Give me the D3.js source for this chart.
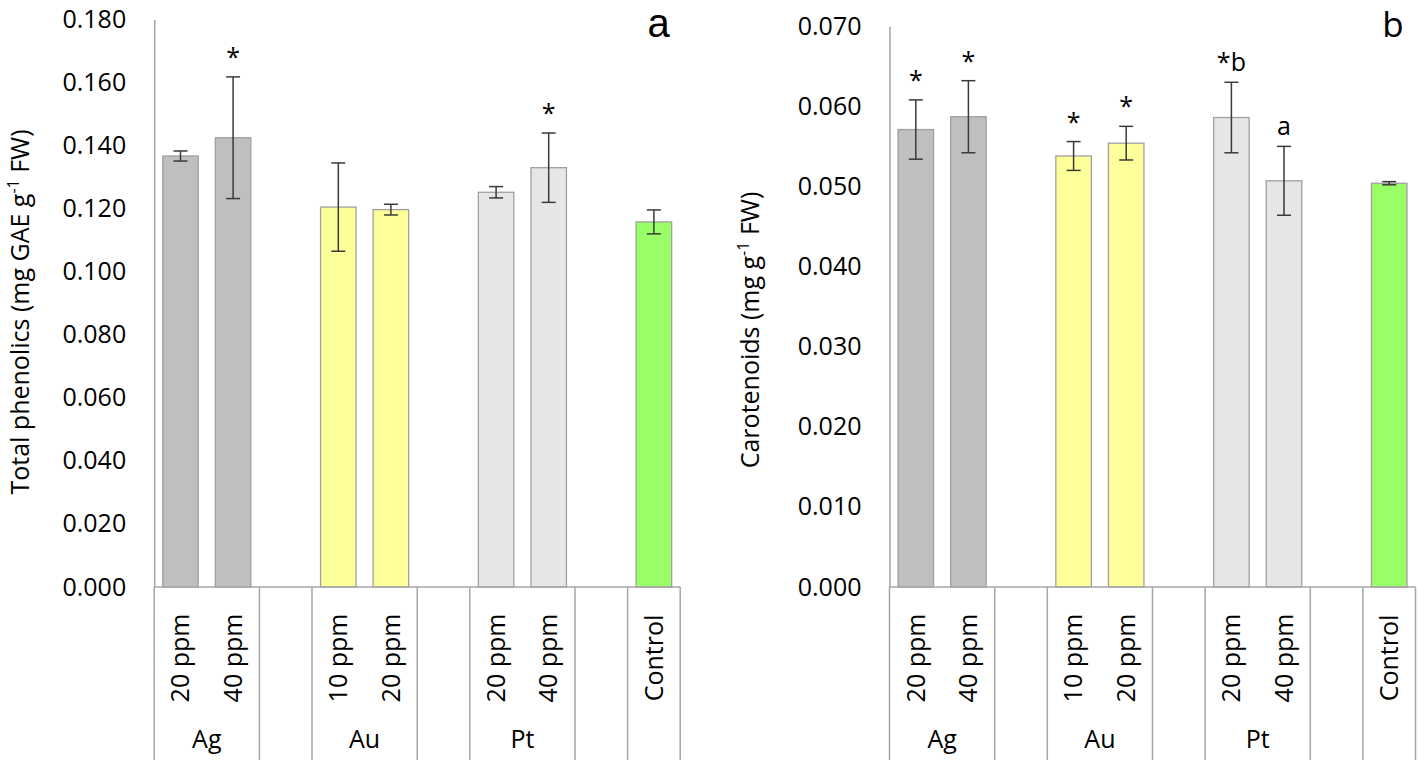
<!DOCTYPE html>
<html>
<head>
<meta charset="utf-8">
<script src="https://cdn.jsdelivr.net/npm/d3@7/dist/d3.min.js"></script>
<style>
  html, body { margin: 0; padding: 0; background: #fff; }
  svg { display: block; font-family: "Open Sans", sans-serif; }
</style>
</head>
<body>
<svg id="chart" width="1418" height="760"></svg>
<script>
// ---------- data ----------
const categories = ["20 ppm", "40 ppm", "", "10 ppm", "20 ppm", "", "20 ppm", "40 ppm", "", "Control"];
const categoryGroup = ["Ag", "Ag", "gap1", "Au", "Au", "gap2", "Pt", "Pt", "gap3", "Control"];
const groupNames = ["Ag", "gap1", "Au", "gap2", "Pt", "gap3", "Control"];
const groupLabels = ["Ag", "", "Au", "", "Pt", "", ""];

const phenolics = [0.1367, 0.1425, null, 0.1205, 0.1197, null, 0.1252, 0.1330, null, 0.1158];
const phenolicsErr = [0.0016, 0.0193, null, 0.0140, 0.0017, null, 0.0018, 0.0110, null, 0.0038];
const phenolicsMarks = ["", "*", "", "", "", "", "", "*", "", ""];
const phenolicsTicks = [0, 0.02, 0.04, 0.06, 0.08, 0.10, 0.12, 0.14, 0.16, 0.18];

const carotenoids = [0.0571, 0.0587, null, 0.0538, 0.0554, null, 0.0586, 0.0507, null, 0.0504];
const carotenoidsErr = [0.0037, 0.0045, null, 0.0018, 0.0021, null, 0.0044, 0.0043, null, 0.0002];
const carotenoidsMarks = ["*", "*", "", "*", "*", "", "*b", "a", "", ""];
const carotenoidsTicks = [0, 0.01, 0.02, 0.03, 0.04, 0.05, 0.06, 0.07];

// ---------- styles ----------
const groupColor = d3.scaleOrdinal()
  .domain(["Ag", "Au", "Pt", "Control"])
  .range(["#BFBFBF", "#FFFF99", "#E7E6E6", "#99FF66"]);

const svg = d3.select("#chart");
const lineColor = "#A6A6A6";
const FONT = 25;

function panel(cfg) {
  const g = svg.append("g");
  const x = d3.scaleBand().domain(d3.range(categories.length)).range([cfg.x0, cfg.x1]).padding(0);
  const y = d3.scaleLinear().domain([0, cfg.max]).range([cfg.yBottom, cfg.yTop]);
  const barW = x.bandwidth() * 0.675;

  // y axis
  const yAxis = d3.axisLeft(y).tickValues(cfg.ticks).tickFormat(d3.format(".3f"))
    .tickSize(0).tickSizeOuter(0).tickPadding(28);
  const ya = g.append("g").attr("transform", `translate(${cfg.x0},0)`).call(yAxis);
  ya.select(".domain").attr("stroke", lineColor).attr("stroke-width", 1.5);
  ya.selectAll("text").attr("font-size", FONT).attr("fill", "#000")
    .attr("font-family", "Open Sans, sans-serif");

  // bars
  const idx = d3.range(categories.length).filter(i => cfg.values[i] != null);
  g.selectAll("rect.bar").data(idx).join("rect")
    .attr("class", "bar")
    .attr("x", i => x(i) + (x.bandwidth() - barW) / 2)
    .attr("width", barW)
    .attr("y", i => y(cfg.values[i]))
    .attr("height", i => y(0) - y(cfg.values[i]))
    .attr("fill", i => groupColor(categoryGroup[i]))
    .attr("stroke", "#A0A0A0")
    .attr("stroke-width", 1.3);

  // error bars
  const cap = 7;
  const eb = g.selectAll("g.err").data(idx).join("g").attr("class", "err")
    .attr("stroke", "#3a3a3a").attr("stroke-width", 1.5);
  eb.append("line")
    .attr("x1", i => x(i) + x.bandwidth() / 2).attr("x2", i => x(i) + x.bandwidth() / 2)
    .attr("y1", i => y(cfg.values[i] + cfg.errs[i])).attr("y2", i => y(cfg.values[i] - cfg.errs[i]));
  eb.append("line")
    .attr("x1", i => x(i) + x.bandwidth() / 2 - cap).attr("x2", i => x(i) + x.bandwidth() / 2 + cap)
    .attr("y1", i => y(cfg.values[i] + cfg.errs[i])).attr("y2", i => y(cfg.values[i] + cfg.errs[i]));
  eb.append("line")
    .attr("x1", i => x(i) + x.bandwidth() / 2 - cap).attr("x2", i => x(i) + x.bandwidth() / 2 + cap)
    .attr("y1", i => y(cfg.values[i] - cfg.errs[i])).attr("y2", i => y(cfg.values[i] - cfg.errs[i]));

  // significance marks
  g.selectAll("text.mark").data(idx.filter(i => cfg.marks[i])).join("text")
    .attr("class", "mark")
    .attr("x", i => x(i) + x.bandwidth() / 2)
    .attr("y", i => y(cfg.values[i] + cfg.errs[i]) - 11)
    .attr("text-anchor", "middle")
    .attr("font-size", FONT)
    .text(i => cfg.marks[i]);

  // x axis: horizontal line and group separators
  g.append("line").attr("x1", cfg.x0).attr("x2", cfg.x1)
    .attr("y1", y(0)).attr("y2", y(0)).attr("stroke", lineColor).attr("stroke-width", 1.5);
  const bounds = [0];
  groupNames.forEach(gn => {
    const last = categoryGroup.lastIndexOf(gn);
    bounds.push(last + 1);
  });
  g.selectAll("line.sep").data(bounds).join("line").attr("class", "sep")
    .attr("x1", b => b < categories.length ? x(b) : cfg.x1)
    .attr("x2", b => b < categories.length ? x(b) : cfg.x1)
    .attr("y1", y(0)).attr("y2", 760)
    .attr("stroke", lineColor).attr("stroke-width", 1.5);

  // category labels (rotated)
  g.selectAll("text.cat").data(d3.range(categories.length).filter(i => categories[i])).join("text")
    .attr("class", "cat")
    .attr("transform", i => `translate(${x(i) + x.bandwidth() / 2},658) rotate(-90)`)
    .attr("text-anchor", "middle")
    .attr("dy", "0.35em")
    .attr("font-size", FONT)
    .text(i => categories[i]);

  // group labels
  groupNames.forEach((gn, k) => {
    if (!groupLabels[k]) return;
    const first = categoryGroup.indexOf(gn), last = categoryGroup.lastIndexOf(gn);
    const cx = (x(first) + x(last) + x.bandwidth()) / 2;
    g.append("text").attr("x", cx).attr("y", 748).attr("text-anchor", "middle")
      .attr("font-size", FONT).text(groupLabels[k]);
  });

  // y title
  const t = g.append("text")
    .attr("transform", `translate(${cfg.titleX},${cfg.titleY}) rotate(-90)`)
    .attr("text-anchor", "middle")
    .attr("font-size", FONT);
  t.append("tspan").text(cfg.titleA);
  t.append("tspan").attr("font-size", 16).attr("dy", -10).text("-1");
  t.append("tspan").attr("dy", 10).text(cfg.titleB);

  // panel letter
  g.append("text").attr("x", cfg.letterX).attr("y", cfg.letterY)
    .attr("text-anchor", "middle").attr("font-size", cfg.letterSize)
    .attr("font-family", cfg.letterFont).text(cfg.letter);
}

panel({
  x0: 154.2, x1: 680.2, yBottom: 587, yTop: 19.5, max: 0.18,
  ticks: phenolicsTicks, values: phenolics, errs: phenolicsErr, marks: phenolicsMarks,
  titleX: 29, titleY: 312, titleA: "Total phenolics (mg GAE g", titleB: " FW)",
  letter: "a", letterX: 658.5, letterY: 36.5, letterSize: 40, letterFont: "Liberation Sans, sans-serif"
});
panel({
  x0: 889.5, x1: 1415.5, yBottom: 587, yTop: 26.2, max: 0.07,
  ticks: carotenoidsTicks, values: carotenoids, errs: carotenoidsErr, marks: carotenoidsMarks,
  titleX: 759, titleY: 330, titleA: "Carotenoids (mg g", titleB: " FW)",
  letter: "b", letterX: 1393, letterY: 37, letterSize: 35, letterFont: "Open Sans, sans-serif"
});
</script>
</body>
</html>
